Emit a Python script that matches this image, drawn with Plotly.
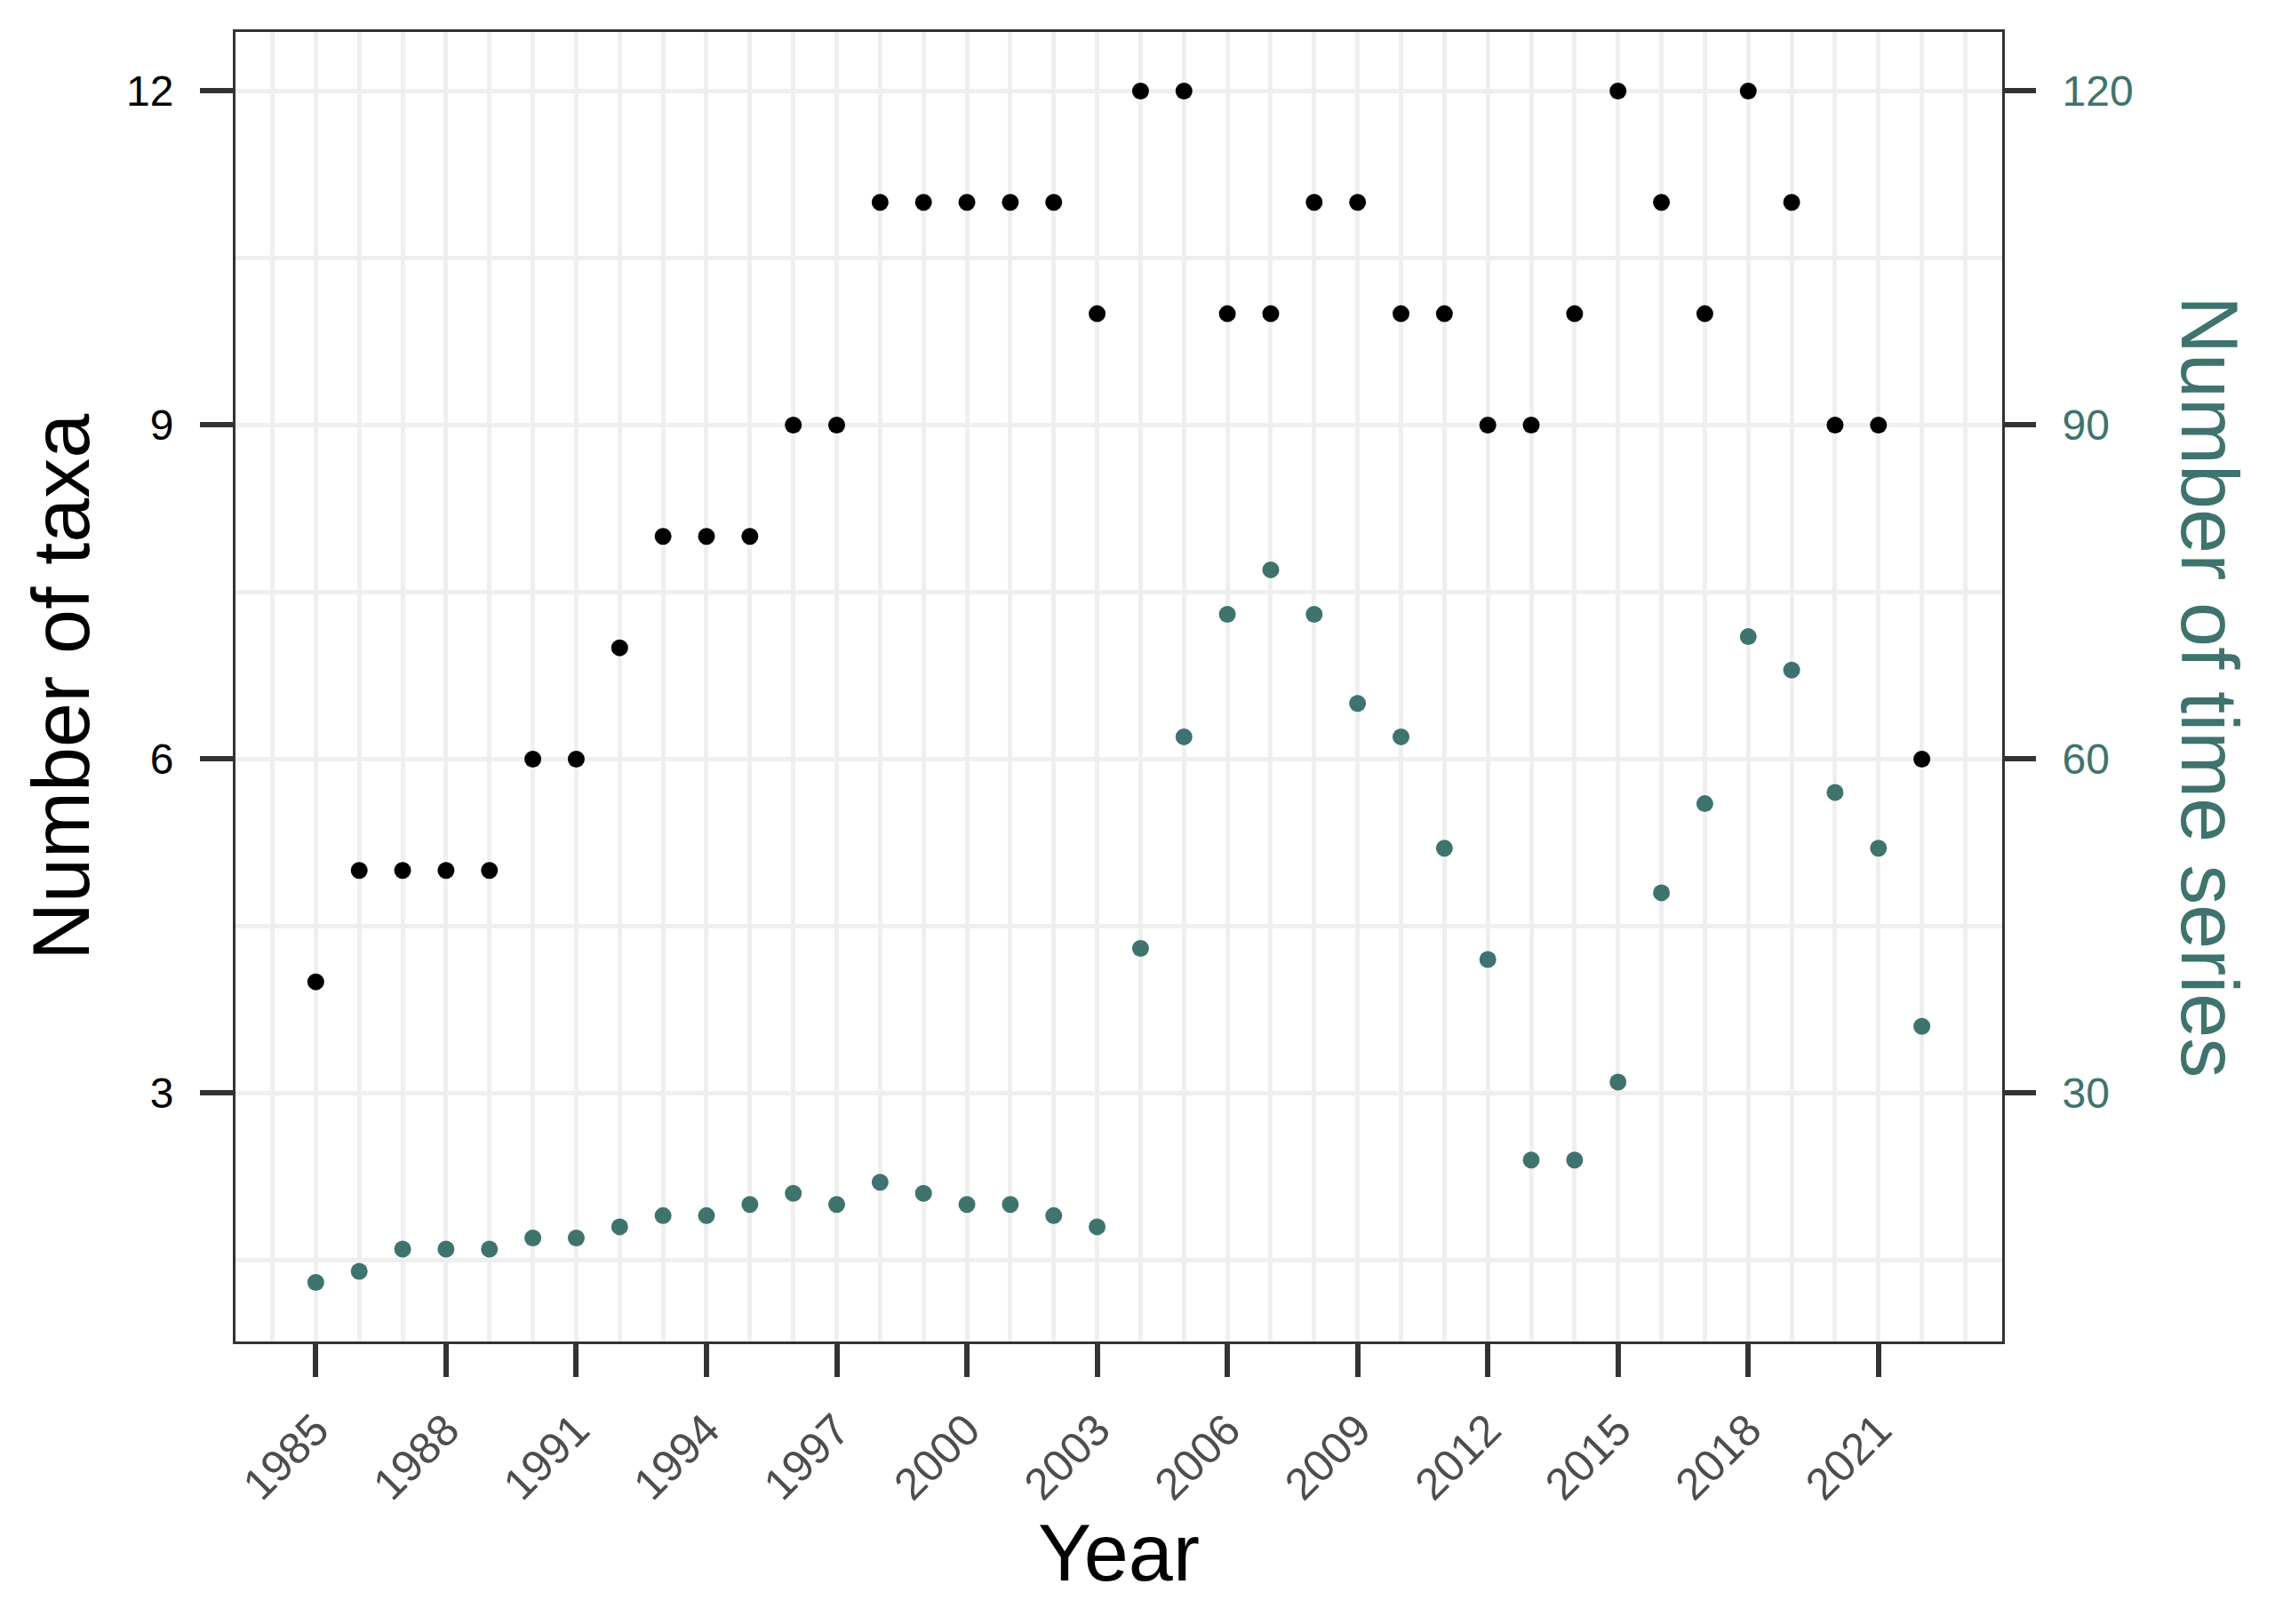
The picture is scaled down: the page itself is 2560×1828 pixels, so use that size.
import plotly.graph_objects as go

years = list(range(1985, 2023))
n_taxa = [4, 5, 5, 5, 5, 6, 6, 7, 8, 8, 8, 9, 9, 11, 11, 11, 11, 11, 10,
          12, 12, 10, 10, 11, 11, 10, 10, 9, 9, 10, 12, 11, 10, 12, 11, 9, 9, 6]
n_series = [13, 14, 16, 16, 16, 17, 17, 18, 19, 19, 20, 21, 20, 22, 21, 20, 20, 19, 18,
            43, 62, 73, 77, 73, 65, 62, 52, 42, 24, 24, 31, 48, 56, 71, 68, 57, 52, 36]
x_ticks = list(range(1985, 2022, 3))
y_ticks = [3, 6, 9, 12]
y2_ticks = [30, 60, 90, 120]

TEAL = "#3E736E"
DARK = "#333333"
GRID = "#EFEFEF"
FONT = "Liberation Sans, Arial, sans-serif"

fig = go.Figure()
fig.add_trace(go.Scatter(x=years, y=n_series, mode="markers", yaxis="y2",
                         marker=dict(color=TEAL, size=19), showlegend=False))
fig.add_trace(go.Scatter(x=years, y=n_taxa, mode="markers", yaxis="y",
                         marker=dict(color="#000000", size=19), showlegend=False))

fig.update_layout(
    width=2544, height=1812,
    margin=dict(l=257, r=299, t=28, b=310),
    paper_bgcolor="white", plot_bgcolor="white",
    font=dict(family=FONT),
    xaxis=dict(
        range=[1983.15, 2023.85], tickmode="array", tickvals=x_ticks,
        ticktext=[str(v) for v in x_ticks], tickangle=-45,
        tickfont=dict(size=50, color="#4D4D4D", family=FONT),
        ticks="outside", ticklen=37, tickwidth=6, tickcolor=DARK,
        showgrid=True, gridcolor=GRID, gridwidth=5,
        minor=dict(tickmode="linear", tick0=1984, dtick=1, showgrid=True,
                   gridcolor=GRID, gridwidth=5, ticks=""),
        showline=True, mirror=True, linecolor=DARK, linewidth=3,
        zeroline=False, ticklabelstandoff=10,
    ),
    yaxis=dict(
        range=[0.77, 12.53], tickmode="array", tickvals=y_ticks,
        tickfont=dict(size=48, color="#000000", family=FONT),
        ticks="outside", ticklen=37, tickwidth=6, tickcolor=DARK,
        showgrid=True, gridcolor=GRID, gridwidth=5,
        minor=dict(tickmode="linear", tick0=0, dtick=1.5, showgrid=True,
                   gridcolor=GRID, gridwidth=5, ticks=""),
        showline=True, mirror=True, linecolor=DARK, linewidth=3,
        zeroline=False, ticklabelstandoff=20,
    ),
    yaxis2=dict(
        overlaying="y", side="right", range=[7.7, 125.3],
        tickmode="array", tickvals=y2_ticks,
        tickfont=dict(size=48, color=TEAL, family=FONT),
        ticks="outside", ticklen=37, tickwidth=6, tickcolor=DARK,
        showgrid=False, zeroline=False, showline=False, ticklabelstandoff=20,
    ),
    annotations=[
        dict(text="Year", xref="paper", yref="paper", x=0.5, y=-0.1615,
             xanchor="center", yanchor="middle", showarrow=False,
             font=dict(size=90, color="#000000", family=FONT)),
        dict(text="Number of taxa", xref="paper", yref="paper", x=-0.0986, y=0.5,
             xanchor="center", yanchor="middle", showarrow=False, textangle=-90,
             font=dict(size=90, color="#000000", family=FONT)),
        dict(text="Number of time series", xref="paper", yref="paper", x=1.1172, y=0.5,
             xanchor="center", yanchor="middle", showarrow=False, textangle=90,
             font=dict(size=90, color=TEAL, family=FONT)),
    ],
)

fig.write_html("out.html")
